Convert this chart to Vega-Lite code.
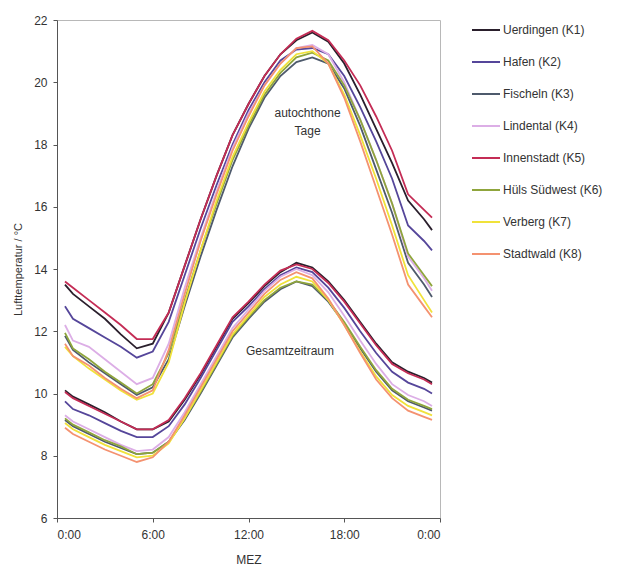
{
  "$schema": "https://vega.github.io/schema/vega-lite/v6.json",
  "width": 383,
  "height": 498,
  "autosize": "none",
  "padding": {"left": 57, "top": 20, "right": 180, "bottom": 66},
  "background": "white",
  "config": {
    "font": "Liberation Sans",
    "view": {"stroke": "#b8b8b8", "strokeWidth": 1},
    "axis": {
      "labelFont": "Liberation Sans", "labelFontSize": 12, "labelColor": "#333",
      "titleFont": "Liberation Sans", "titleFontSize": 12, "titleFontWeight": "normal", "titleColor": "#333",
      "grid": false, "domainColor": "#555", "tickColor": "#555", "tickSize": 4
    }
  },
  "layer": [
    {
      "data": {"values": [
        {"h":0.5,"p":"A","K1":13.5,"K2":12.8,"K3":11.85,"K4":12.2,"K5":13.6,"K6":11.95,"K7":11.5,"K8":11.6},
        {"h":1,"p":"A","K1":13.2,"K2":12.4,"K3":11.4,"K4":11.7,"K5":13.4,"K6":11.45,"K7":11.2,"K8":11.2},
        {"h":2,"p":"A","K1":12.8,"K2":12.1,"K3":11.0,"K4":11.5,"K5":13.0,"K6":11.1,"K7":10.8,"K8":10.9},
        {"h":3,"p":"A","K1":12.4,"K2":11.8,"K3":10.65,"K4":11.1,"K5":12.6,"K6":10.7,"K7":10.45,"K8":10.5},
        {"h":4,"p":"A","K1":11.9,"K2":11.5,"K3":10.3,"K4":10.7,"K5":12.2,"K6":10.35,"K7":10.1,"K8":10.15},
        {"h":5,"p":"A","K1":11.45,"K2":11.15,"K3":9.95,"K4":10.3,"K5":11.75,"K6":10.0,"K7":9.8,"K8":9.85},
        {"h":6,"p":"A","K1":11.6,"K2":11.35,"K3":10.2,"K4":10.5,"K5":11.75,"K6":10.3,"K7":10.0,"K8":10.1},
        {"h":7,"p":"A","K1":12.6,"K2":12.3,"K3":11.1,"K4":11.6,"K5":12.6,"K6":11.3,"K7":11.0,"K8":11.4},
        {"h":8,"p":"A","K1":14.1,"K2":13.8,"K3":12.8,"K4":13.4,"K5":14.1,"K6":13.0,"K7":12.9,"K8":13.2},
        {"h":9,"p":"A","K1":15.6,"K2":15.3,"K3":14.4,"K4":15.0,"K5":15.6,"K6":14.6,"K7":14.6,"K8":14.9},
        {"h":10,"p":"A","K1":17.0,"K2":16.7,"K3":15.9,"K4":16.5,"K5":17.0,"K6":16.1,"K7":16.2,"K8":16.4},
        {"h":11,"p":"A","K1":18.3,"K2":18.0,"K3":17.3,"K4":17.9,"K5":18.3,"K6":17.5,"K7":17.6,"K8":17.8},
        {"h":12,"p":"A","K1":19.3,"K2":19.1,"K3":18.5,"K4":19.0,"K5":19.3,"K6":18.6,"K7":18.7,"K8":18.9},
        {"h":13,"p":"A","K1":20.2,"K2":20.0,"K3":19.5,"K4":19.9,"K5":20.2,"K6":19.6,"K7":19.7,"K8":19.9},
        {"h":14,"p":"A","K1":20.9,"K2":20.7,"K3":20.2,"K4":20.6,"K5":20.9,"K6":20.3,"K7":20.4,"K8":20.6},
        {"h":15,"p":"A","K1":21.35,"K2":21.05,"K3":20.65,"K4":21.1,"K5":21.4,"K6":20.8,"K7":20.9,"K8":21.1},
        {"h":16,"p":"A","K1":21.6,"K2":21.1,"K3":20.8,"K4":21.2,"K5":21.65,"K6":20.95,"K7":21.0,"K8":21.15},
        {"h":17,"p":"A","K1":21.3,"K2":20.9,"K3":20.6,"K4":20.9,"K5":21.35,"K6":20.7,"K7":20.6,"K8":20.6},
        {"h":18,"p":"A","K1":20.6,"K2":20.2,"K3":19.8,"K4":20.0,"K5":20.7,"K6":19.9,"K7":19.6,"K8":19.5},
        {"h":19,"p":"A","K1":19.6,"K2":19.2,"K3":18.6,"K4":18.8,"K5":19.9,"K6":18.8,"K7":18.3,"K8":18.1},
        {"h":20,"p":"A","K1":18.5,"K2":18.1,"K3":17.2,"K4":17.5,"K5":18.9,"K6":17.5,"K7":16.9,"K8":16.6},
        {"h":21,"p":"A","K1":17.4,"K2":16.9,"K3":15.8,"K4":16.1,"K5":17.8,"K6":16.1,"K7":15.4,"K8":15.1},
        {"h":22,"p":"A","K1":16.2,"K2":15.4,"K3":14.2,"K4":14.4,"K5":16.4,"K6":14.5,"K7":13.8,"K8":13.5},
        {"h":23,"p":"A","K1":15.6,"K2":14.9,"K3":13.5,"K4":13.7,"K5":15.9,"K6":13.8,"K7":13.0,"K8":12.8},
        {"h":23.5,"p":"A","K1":15.25,"K2":14.6,"K3":13.1,"K4":13.3,"K5":15.65,"K6":13.45,"K7":12.6,"K8":12.45},
        {"h":0.5,"p":"G","K1":10.1,"K2":9.75,"K3":9.15,"K4":9.3,"K5":10.05,"K6":9.2,"K7":9.05,"K8":8.9},
        {"h":1,"p":"G","K1":9.9,"K2":9.5,"K3":8.95,"K4":9.1,"K5":9.85,"K6":9.0,"K7":8.85,"K8":8.7},
        {"h":2,"p":"G","K1":9.65,"K2":9.3,"K3":8.7,"K4":8.85,"K5":9.6,"K6":8.75,"K7":8.6,"K8":8.45},
        {"h":3,"p":"G","K1":9.4,"K2":9.05,"K3":8.45,"K4":8.6,"K5":9.35,"K6":8.5,"K7":8.35,"K8":8.2},
        {"h":4,"p":"G","K1":9.1,"K2":8.8,"K3":8.25,"K4":8.35,"K5":9.1,"K6":8.3,"K7":8.15,"K8":8.0},
        {"h":5,"p":"G","K1":8.85,"K2":8.6,"K3":8.05,"K4":8.15,"K5":8.85,"K6":8.05,"K7":7.95,"K8":7.8},
        {"h":6,"p":"G","K1":8.85,"K2":8.6,"K3":8.1,"K4":8.2,"K5":8.85,"K6":8.1,"K7":8.0,"K8":7.95},
        {"h":7,"p":"G","K1":9.1,"K2":8.95,"K3":8.45,"K4":8.6,"K5":9.15,"K6":8.45,"K7":8.4,"K8":8.45},
        {"h":8,"p":"G","K1":9.8,"K2":9.65,"K3":9.15,"K4":9.4,"K5":9.85,"K6":9.2,"K7":9.2,"K8":9.3},
        {"h":9,"p":"G","K1":10.6,"K2":10.5,"K3":10.0,"K4":10.3,"K5":10.65,"K6":10.05,"K7":10.1,"K8":10.2},
        {"h":10,"p":"G","K1":11.5,"K2":11.4,"K3":10.9,"K4":11.2,"K5":11.55,"K6":10.95,"K7":11.0,"K8":11.1},
        {"h":11,"p":"G","K1":12.4,"K2":12.3,"K3":11.8,"K4":12.1,"K5":12.45,"K6":11.85,"K7":11.9,"K8":12.0},
        {"h":12,"p":"G","K1":12.9,"K2":12.8,"K3":12.4,"K4":12.7,"K5":12.95,"K6":12.45,"K7":12.5,"K8":12.6},
        {"h":13,"p":"G","K1":13.45,"K2":13.35,"K3":12.95,"K4":13.3,"K5":13.5,"K6":13.0,"K7":13.1,"K8":13.2},
        {"h":14,"p":"G","K1":13.9,"K2":13.8,"K3":13.35,"K4":13.75,"K5":13.95,"K6":13.4,"K7":13.5,"K8":13.65},
        {"h":15,"p":"G","K1":14.2,"K2":14.05,"K3":13.6,"K4":14.0,"K5":14.15,"K6":13.6,"K7":13.75,"K8":13.9},
        {"h":16,"p":"G","K1":14.05,"K2":13.9,"K3":13.45,"K4":13.8,"K5":14.0,"K6":13.5,"K7":13.6,"K8":13.7},
        {"h":17,"p":"G","K1":13.6,"K2":13.4,"K3":12.95,"K4":13.25,"K5":13.55,"K6":13.0,"K7":13.0,"K8":13.05},
        {"h":18,"p":"G","K1":13.0,"K2":12.75,"K3":12.25,"K4":12.5,"K5":12.95,"K6":12.3,"K7":12.2,"K8":12.2},
        {"h":19,"p":"G","K1":12.3,"K2":12.0,"K3":11.45,"K4":11.7,"K5":12.25,"K6":11.5,"K7":11.35,"K8":11.3},
        {"h":20,"p":"G","K1":11.6,"K2":11.3,"K3":10.7,"K4":10.95,"K5":11.55,"K6":10.75,"K7":10.55,"K8":10.45},
        {"h":21,"p":"G","K1":11.0,"K2":10.7,"K3":10.1,"K4":10.3,"K5":10.95,"K6":10.15,"K7":9.95,"K8":9.85},
        {"h":22,"p":"G","K1":10.7,"K2":10.35,"K3":9.75,"K4":9.95,"K5":10.65,"K6":9.8,"K7":9.6,"K8":9.45},
        {"h":23,"p":"G","K1":10.5,"K2":10.15,"K3":9.55,"K4":9.75,"K5":10.45,"K6":9.6,"K7":9.4,"K8":9.25},
        {"h":23.5,"p":"G","K1":10.35,"K2":10.0,"K3":9.45,"K4":9.6,"K5":10.3,"K6":9.5,"K7":9.3,"K8":9.15}
      ]},
      "transform": [
        {"fold": ["K1","K2","K3","K4","K5","K6","K7","K8"], "as": ["k","v"]},
        {"lookup": "k", "from": {"data": {"values": [
          {"k":"K1","name":"Uerdingen (K1)"},
          {"k":"K2","name":"Hafen (K2)"},
          {"k":"K3","name":"Fischeln (K3)"},
          {"k":"K4","name":"Lindental (K4)"},
          {"k":"K5","name":"Innenstadt (K5)"},
          {"k":"K6","name":"Hüls Südwest (K6)"},
          {"k":"K7","name":"Verberg (K7)"},
          {"k":"K8","name":"Stadtwald (K8)"}
        ]}, "key": "k", "fields": ["name"]}}
      ],
      "mark": {"type": "line", "strokeWidth": 1.8, "interpolate": "linear"},
      "encoding": {
        "x": {"field": "h", "type": "quantitative",
          "scale": {"domain": [0, 24], "nice": false},
          "axis": {"values": [0, 6, 12, 18, 24], "labelExpr": "(datum.value % 24) + ':00'", "labelPadding": 7, "title": "MEZ", "titlePadding": 14}},
        "y": {"field": "v", "type": "quantitative",
          "scale": {"domain": [6, 22], "nice": false},
          "axis": {"values": [6, 8, 10, 12, 14, 16, 18, 20, 22], "labelPadding": 6, "title": "Lufttemperatur / °C", "titleFontSize": 11, "titlePadding": 10}},
        "detail": {"field": "p"},
        "order": {"field": "h"},
        "color": {"field": "name", "type": "nominal",
          "scale": {
            "domain": ["Uerdingen (K1)","Hafen (K2)","Fischeln (K3)","Lindental (K4)","Innenstadt (K5)","Hüls Südwest (K6)","Verberg (K7)","Stadtwald (K8)"],
            "range": ["#2a1f2c","#55469a","#4e5a6c","#dcaee6","#c42c55","#8fa53c","#f0e23a","#f49270"]
          },
          "legend": {"title": null, "orient": "none", "legendX": 414, "legendY": -5,
            "symbolType": "stroke", "symbolSize": 784, "symbolStrokeWidth": 2,
            "labelFontSize": 12, "labelColor": "#333", "labelOffset": 2, "rowPadding": 11}}
      }
    },
    {
      "data": {"values": [
        {"h": 15.7, "v": 19.0, "label": ["autochthone", "Tage"]},
        {"h": 14.6, "v": 11.35, "label": ["Gesamtzeitraum"]}
      ]},
      "mark": {"type": "text", "fontSize": 12, "color": "#333", "lineHeight": 18, "align": "center", "baseline": "middle"},
      "encoding": {
        "x": {"field": "h", "type": "quantitative"},
        "y": {"field": "v", "type": "quantitative"},
        "text": {"field": "label"}
      }
    }
  ]
}
